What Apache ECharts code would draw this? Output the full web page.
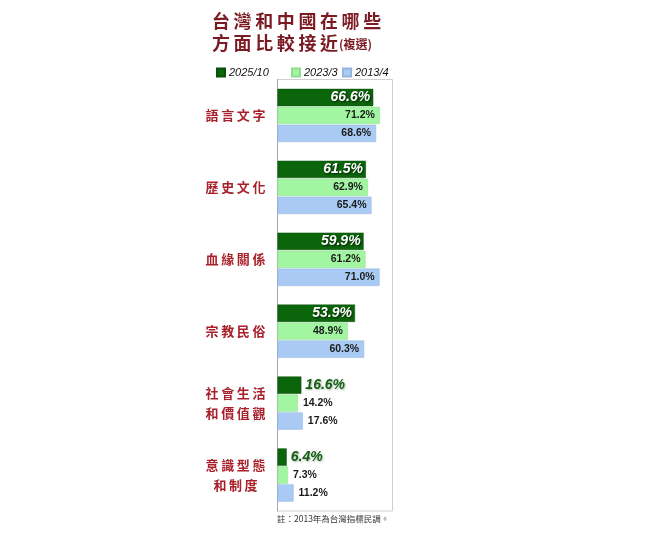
<!DOCTYPE html>
<html>
<head>
<meta charset="utf-8">
<script src="https://cdn.jsdelivr.net/npm/echarts@6/dist/echarts.min.js"></script>
<style>
  html, body { margin: 0; padding: 0; background: #fff; }
  #chart { width: 652px; height: 539px; }
</style>
</head>
<body>
<div id="chart"></div>
<script>
// 資料
const categories = ['語言文字', '歷史文化', '血緣關係', '宗教民俗', '社會生活\n和價值觀', '意識型態\n和制度']
const seriesNames = ['2025/10', '2023/3', '2013/4']
const values2025 = [66.6, 61.5, 59.9, 53.9, 16.6, 6.4]
const values2023 = [71.2, 62.9, 61.2, 48.9, 14.2, 7.3]
const values2013 = [68.6, 65.4, 71.0, 60.3, 17.6, 11.2]

const colors = ['#0b650b', '#a2f6a2', '#a8caf3']
const latin = '"Liberation Sans", Arial, sans-serif'
const cjk = '"Noto Sans CJK TC", sans-serif'

// 字距
const spaced = s => s.split('\n').map(line => line.split('').join('\u2009')).join('\n')

// 大於30的數值標籤放在長條內
const darkData = values2025.map(v => ({
  value: v,
  label: v > 30
    ? { position: 'insideRight', distance: 3, color: '#fff', textShadowColor: 'rgba(0,0,0,0.7)', textShadowBlur: 2, textShadowOffsetX: 1, textShadowOffsetY: 1 }
    : { position: 'right', distance: 4, color: '#155f15', textShadowColor: 'rgba(0,60,0,0.35)', textShadowBlur: 2, textShadowOffsetX: 1, textShadowOffsetY: 1 }
}))
const lightData = arr => arr.map(v => ({
  value: v,
  label: v > 30 ? { position: 'insideRight', distance: 5 } : { position: 'right', distance: 5 }
}))

const legendAt = (name, left) => ({
  data: [name],
  left: left,
  top: 62,
  itemWidth: 8,
  itemHeight: 8,
  itemGap: 4,
  icon: 'rect',
  selectedMode: false,
  textStyle: { fontFamily: latin, fontStyle: 'italic', fontSize: 11, color: '#111', padding: [0, 0, 0, -1] }
})

const chart = echarts.init(document.getElementById('chart'))
const option = {
  animation: false,
  color: colors,
  title: {
    text: spaced('台灣和中國在哪些') + '\n' + spaced('方面比較接近') + '{s|(複選)}',
    left: 207,
    top: 5,
    textStyle: {
      fontFamily: cjk,
      fontWeight: 'bold',
      fontSize: 18,
      lineHeight: 22,
      color: '#7a1a22',
      rich: {
        s: { fontFamily: cjk, fontWeight: 'bold', fontSize: 12, color: '#7a1a22', lineHeight: 22, padding: [3, 0, 0, 1] }
      }
    }
  },
  legend: [
    legendAt(seriesNames[0], 211),
    legendAt(seriesNames[1], 286),
    legendAt(seriesNames[2], 337)
  ],
  graphic: [{
    type: 'text',
    left: 277,
    top: 515,
    style: { text: '註：2013年為台灣指標民調。', font: '8.5px "Noto Sans CJK TC", sans-serif', fill: '#333' }
  }],
  grid: {
    left: 277.5,
    right: 259.5,
    top: 79.5,
    bottom: 28,
    show: true,
    borderColor: '#cfcfcf',
    borderWidth: 1
  },
  xAxis: {
    type: 'value',
    min: 0,
    max: 80,
    show: false
  },
  yAxis: {
    type: 'category',
    data: categories,
    inverse: true,
    axisLine: { show: true, lineStyle: { color: '#a8a8a8' } },
    axisTick: { show: false },
    axisLabel: {
      formatter: v => spaced(v),
      align: 'center',
      margin: 42,
      fontFamily: cjk,
      fontWeight: 'bold',
      fontSize: 13,
      lineHeight: 20,
      color: '#a8202a'
    }
  },
  series: [
    {
      name: seriesNames[0],
      type: 'bar',
      data: darkData,
      barCategoryGap: '26%',
      barGap: '4%',
      itemStyle: { borderColor: '#0a4f0a', borderWidth: 0.5 },
      label: { show: true, formatter: '{c}%', fontFamily: latin, fontStyle: 'italic', fontWeight: 'bold', fontSize: 14 }
    },
    {
      name: seriesNames[1],
      type: 'bar',
      data: lightData(values2023),
      barCategoryGap: '26%',
      barGap: '4%',
      itemStyle: { borderColor: '#8fdc8f', borderWidth: 0.5 },
      label: { show: true, formatter: p => p.value.toFixed(1) + '%', fontFamily: latin, fontWeight: 'bold', fontSize: 10.5, color: '#1a1a1a' }
    },
    {
      name: seriesNames[2],
      type: 'bar',
      data: lightData(values2013),
      barCategoryGap: '26%',
      barGap: '4%',
      itemStyle: { borderColor: '#93b6e0', borderWidth: 0.5 },
      label: { show: true, formatter: p => p.value.toFixed(1) + '%', fontFamily: latin, fontWeight: 'bold', fontSize: 10.5, color: '#1a1a1a' }
    }
  ]
}
chart.setOption(option)
</script>
</body>
</html>
